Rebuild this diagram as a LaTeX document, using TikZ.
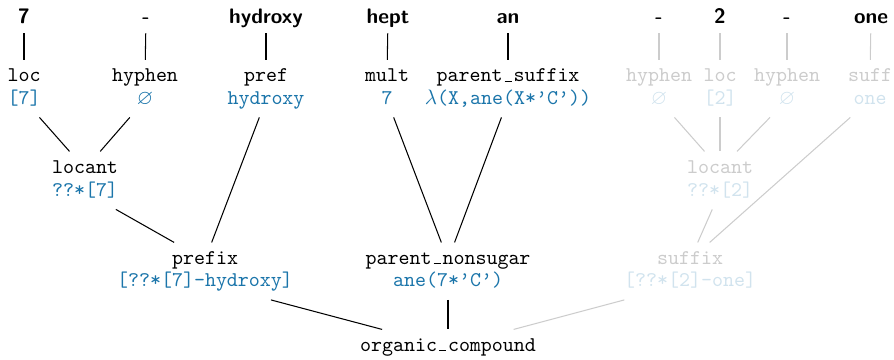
\documentclass[tikz,border=0pt]{standalone}
\usepackage{xcolor}
\usepackage{amssymb}
\definecolor{semval}{RGB}{27,117,170}
% low rule used as underscore in category names
\newcommand{\tus}{\kern0.1em\vbox{\hrule width0.33em}\kern0.095em}
\newcommand{\tq}{\textquoteright}
\tikzset{
  word/.style={font=\sffamily\bfseries, anchor=base, text height=1.6ex, text depth=0.4ex, inner sep=3pt},
  catname/.style={font=\ttfamily, anchor=base, text height=6.1pt, text depth=2.2pt, inner sep=4pt},
  catval/.style={font=\ttfamily, text=semval, anchor=base, text height=6.1pt, text depth=2.2pt, inner sep=4pt},
  edge/.style={draw=black, line width=0.5pt},
  faded/.style={opacity=0.2}
}
\begin{document}
\begin{tikzpicture}[x=0.4773pt, y=-0.4773pt]
\useasboundingbox (0,0) rectangle (894,359);

% surface words
\node[word] (w1) at (24,23) {7};
\node[word] (w2) at (146,23) {-};
\node[word] (w3) at (266,23) {hydroxy};
\node[word] (w4) at (388,23) {hept};
\node[word] (w5) at (508,23) {an};
\node[word] (w6) at (659,23) {-};
\node[word] (w7) at (720,23) {2};
\node[word] (w8) at (787,23) {-};
\node[word] (w9) at (871,23) {one};

% lexical categories: name above, value below
\node[catname] (r1) at (24,81.5) {loc};
\node[catval] (r1v) at (24,104) {[7]};
\node[catname] (r2) at (145,81.5) {hyphen};
\node[catval] (r2v) at (145,104) {$\varnothing$};
\node[catname] (r3) at (266,81.5) {pref};
\node[catval] (r3v) at (266,104) {hydroxy};
\node[catname] (r4) at (387,81.5) {mult};
\node[catval] (r4v) at (387,104) {7};
\node[catname] (r5) at (508,81.5) {parent\tus suffix};
\node[catval] (r5v) at (508,104) {$\lambda$(X,ane(X*\tq C\tq))};
\begin{scope}[faded]
\node[catname] (r6) at (659,81.5) {hyphen};
\node[catval] (r6v) at (659,104) {$\varnothing$};
\node[catname] (r7) at (720,81.5) {loc};
\node[catval] (r7v) at (720,104) {[2]};
\node[catname] (r8) at (787,81.5) {hyphen};
\node[catval] (r8v) at (787,104) {$\varnothing$};
\node[catname] (r9) at (870,81.5) {suff};
\node[catval] (r9v) at (870,104) {one};
\end{scope}

% phrases
\node[catname] (locA) at (85,173) {locant};
\node[catval] (locAv) at (85,196) {??*[7]};
\node[catname] (pre) at (205,264) {prefix};
\node[catval] (prev) at (205,286.5) {[??*[7]-hydroxy]};
\node[catname] (par) at (448,264) {parent\tus nonsugar};
\node[catval] (parv) at (448,286.5) {ane(7*\tq C\tq)};
\begin{scope}[faded]
\node[catname] (locB) at (720,173) {locant};
\node[catval] (locBv) at (720,196) {??*[2]};
\node[catname] (suf) at (690,264) {suffix};
\node[catval] (sufv) at (690,286.5) {[??*[2]-one]};
\end{scope}
\node[catname] (root) at (448,351) {organic\tus compound};

% tree edges
\draw[edge] (w1) -- (r1);
\draw[edge] (w2) -- (r2);
\draw[edge] (w3) -- (r3);
\draw[edge] (w4) -- (r4);
\draw[edge] (w5) -- (r5);
\draw[edge] (r1v) -- (locA);
\draw[edge] (r2v) -- (locA);
\draw[edge] (locAv) -- (pre);
\draw[edge] (r3v) -- (pre);
\draw[edge] (r4v) -- (par);
\draw[edge] (r5v) -- (par);
\draw[edge] (prev) -- (root);
\draw[edge] (parv) -- (root);
\begin{scope}[faded]
\draw[edge] (w6) -- (r6);
\draw[edge] (w7) -- (r7);
\draw[edge] (w8) -- (r8);
\draw[edge] (w9) -- (r9);
\draw[edge] (r6v) -- (locB);
\draw[edge] (r7v) -- (locB);
\draw[edge] (r8v) -- (locB);
\draw[edge] (locBv) -- (suf);
\draw[edge] (r9v) -- (suf);
\draw[edge] (sufv) -- (root);
\end{scope}
\end{tikzpicture}
\end{document}
